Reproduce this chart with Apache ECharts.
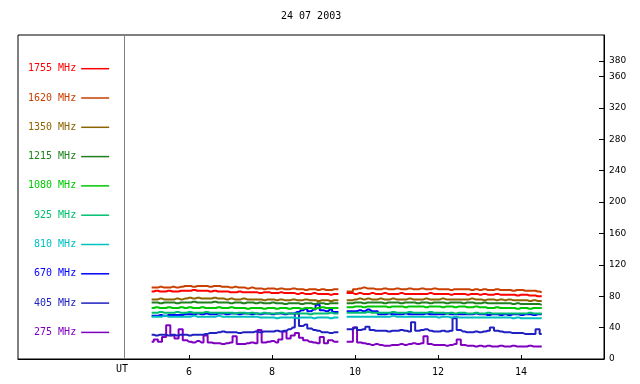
<!DOCTYPE html>
<html>
<head>
<meta charset="utf-8">
<script src="https://cdn.jsdelivr.net/npm/echarts@6/dist/echarts.min.js"></script>
<style>
  html, body { margin: 0; padding: 0; background: #fff; }
  #radio { width: 640px; height: 384px; }
</style>
</head>
<body>
<div id="radio"></div>
<script>
// time grid in UT hours, 9.7 is the data gap
var times = [5.1, 5.2, 5.3, 5.4, 5.5, 5.6, 5.7, 5.8,
  5.9, 6.0, 6.1, 6.2, 6.3, 6.4, 6.5, 6.6, 6.7,
  6.8, 6.9, 7.0, 7.1, 7.2, 7.3, 7.4, 7.5,
  7.6, 7.7, 7.8, 7.9, 8.0, 8.1, 8.2, 8.3, 8.4, 8.5, 8.6, 8.7, 8.8, 8.9, 9.0, 9.1, 9.2, 9.3, 9.4, 9.5,
  9.7,
  9.9, 10.0, 10.1, 10.2, 10.3, 10.4, 10.5,
  10.6, 10.7, 10.8, 10.9, 11.0, 11.1, 11.2, 11.3, 11.4, 11.5,
  11.6, 11.7, 11.8, 11.9, 12.0, 12.1, 12.2, 12.3, 12.4, 12.5,
  12.6, 12.7, 12.8, 12.9, 13.0, 13.1, 13.2, 13.3, 13.4, 13.5,
  13.6, 13.7, 13.8, 13.9, 14.0, 14.1, 14.2, 14.3, 14.4, 14.5];

var f1755 = [86, 87, 86, 86, 87, 86, 86, 87,
  87, 87, 88, 87, 87, 87, 86, 87, 86,
  86, 86, 85, 85, 86, 85, 85, 85,
  85, 84, 85, 85, 84, 84, 85, 84, 84, 84, 83, 84, 83, 83, 84, 83, 83, 83, 82, 83,
  null,
  84, 83, 84, 83, 83, 84, 83,
  83, 84, 83, 83, 83, 84, 83, 83, 83, 83,
  83, 83, 84, 83, 83, 83, 83, 82, 83, 83,
  83, 82, 83, 83, 82, 83, 82, 82, 83, 82,
  82, 82, 82, 81, 82, 82, 81, 81, 80, 80];
var f1620 = [91, 91, 92, 91, 91, 92, 91, 92,
  93, 93, 92, 93, 93, 93, 92, 93, 93,
  92, 92, 91, 92, 91, 91, 90, 91,
  90, 90, 89, 90, 90, 89, 90, 89, 89, 90, 89, 89, 88, 89, 89, 88, 89, 88, 88, 89,
  null,
  86, 89, 90, 91, 90, 90, 89,
  89, 90, 89, 89, 90, 89, 89, 90, 89, 89,
  90, 89, 89, 90, 89, 89, 89, 88, 89, 89,
  89, 89, 88, 89, 88, 89, 88, 88, 89, 88,
  88, 88, 87, 88, 88, 87, 87, 87, 86, 85];
var f1350 = [76, 76, 77, 76, 76, 76, 77, 76,
  77, 78, 77, 78, 77, 77, 77, 78, 77,
  77, 76, 77, 76, 76, 77, 76, 76,
  76, 76, 75, 76, 76, 75, 76, 75, 75, 76, 75, 75, 76, 75, 75, 74, 75, 75, 74, 75,
  null,
  75, 76, 77, 76, 77, 76, 76,
  77, 76, 76, 77, 76, 76, 76, 77, 76, 76,
  76, 77, 76, 76, 76, 77, 76, 76, 76, 76,
  76, 76, 77, 76, 76, 75, 76, 76, 75, 76,
  75, 76, 75, 75, 75, 75, 74, 75, 74, 74];
var f1215 = [72, 72, 71, 72, 72, 72, 71, 72,
  72, 72, 73, 72, 72, 72, 72, 73, 72,
  72, 72, 71, 72, 72, 71, 72, 72,
  71, 72, 71, 71, 72, 71, 71, 70, 71, 71, 71, 70, 71, 71, 70, 71, 71, 70, 71, 71,
  null,
  71, 72, 72, 71, 72, 72, 72,
  72, 71, 72, 72, 72, 71, 72, 72, 72, 71,
  72, 72, 71, 72, 72, 72, 71, 72, 72, 72,
  71, 72, 72, 71, 71, 72, 71, 71, 71, 71,
  71, 71, 70, 71, 70, 70, 70, 70, 70, 69];
var f1080 = [65, 66, 65, 65, 66, 65, 65, 66,
  65, 66, 65, 65, 66, 65, 65, 65, 66,
  65, 65, 66, 65, 65, 65, 64, 65,
  65, 65, 64, 65, 65, 64, 65, 65, 64, 65, 65, 64, 65, 65, 64, 65, 66, 65, 65, 65,
  null,
  66, 67, 67, 66, 67, 67, 67,
  67, 67, 66, 67, 67, 67, 66, 67, 67, 67,
  67, 66, 67, 67, 67, 66, 67, 67, 66, 67,
  67, 66, 66, 67, 66, 66, 65, 65, 66, 65,
  65, 65, 65, 64, 65, 65, 64, 65, 65, 65];
var f925 = [59, 59, 60, 59, 59, 59, 60, 59,
  59, 60, 59, 59, 59, 60, 59, 59, 59,
  59, 59, 59, 58, 59, 59, 58, 59,
  58, 58, 59, 58, 58, 58, 59, 58, 58, 58, 58, 58, 58, 57, 58, 58, 58, 58, 59, 58,
  null,
  59, 59, 59, 59, 60, 59, 59,
  59, 59, 59, 60, 59, 59, 59, 60, 59, 59,
  59, 59, 60, 59, 59, 59, 58, 59, 58, 59,
  59, 58, 58, 59, 58, 58, 59, 58, 58, 58,
  58, 58, 58, 58, 58, 58, 59, 58, 58, 58];
var f810 = [54, 54, 54, 55, 54, 54, 54, 54,
  54, 54, 55, 54, 54, 54, 54, 54, 55,
  54, 54, 54, 54, 54, 54, 54, 54,
  54, 53, 53, 53, 53, 52, 53, 53, 53, 53, 52, 53, 53, 53, 52, 53, 53, 53, 52, 53,
  null,
  54, 54, 54, 54, 54, 54, 54,
  54, 54, 54, 55, 54, 54, 54, 54, 54, 54,
  54, 54, 54, 54, 53, 54, 54, 53, 54, 53,
  53, 53, 53, 53, 53, 53, 53, 53, 53, 53,
  53, 53, 52, 53, 52, 52, 52, 52, 52, 52];
var f670 = [55, 55, 56, 55, 56, 56, 56, 56,
  57, 57, 57, 58, 57, 58, 57, 57, 58,
  58, 57, 58, 58, 57, 58, 58, 57,
  58, 57, 58, 58, 57, 58, 58, 57, 58, 58, 60, 62, 64, 61, 63, 69, 62, 61, 63, 60,
  null,
  61, 61, 62, 61, 63, 61, 61,
  57, 57, 58, 57, 57, 57, 58, 57, 57, 57,
  57, 58, 57, 57, 57, 57, 58, 57, 57, 57,
  57, 57, 57, 58, 57, 57, 56, 57, 57, 56,
  57, 56, 57, 57, 56, 57, 57, 56, 57, 57];
var f405 = [31, 30, 31, 31, 30, 31, 30, 31,
  31, 30, 31, 31, 31, 32, 33, 33, 34,
  35, 34, 34, 34, 33, 34, 34, 34,
  35, 34, 35, 35, 35, 36, 35, 36, 38, 40, 58, 42, 44, 39, 37, 36, 34, 34, 33, 34,
  null,
  38, 40, 37, 38, 41, 37, 36,
  36, 36, 35, 36, 36, 37, 36, 35, 47, 36,
  37, 38, 36, 35, 35, 36, 35, 36, 52, 37,
  35, 34, 34, 35, 34, 35, 36, 40, 36, 35,
  34, 34, 33, 33, 33, 32, 32, 32, 38, 32];
var f275 = [22, 25, 22, 28, 43, 30, 26, 38,
  24, 22, 21, 23, 21, 30, 21, 20, 20,
  19, 20, 21, 29, 19, 19, 20, 21,
  20, 37, 21, 22, 23, 21, 25, 35, 26, 30, 33, 27, 24, 22, 21, 20, 28, 20, 24, 22,
  null,
  22, 40, 21, 20, 19, 18, 19,
  18, 17, 17, 18, 18, 19, 18, 19, 20, 19,
  20, 29, 19, 18, 18, 18, 17, 18, 19, 25,
  18, 17, 17, 16, 17, 16, 17, 16, 16, 17,
  16, 16, 17, 16, 16, 16, 17, 16, 16, 16];

var bands = ['1755 MHz', '1620 MHz', '1350 MHz', '1215 MHz', '1080 MHz',
  '925 MHz', '810 MHz', '670 MHz', '405 MHz', '275 MHz'];
var bandData = [f1755, f1620, f1350, f1215, f1080, f925, f810, f670, f405, f275];
var bandColors = ['#ff0000', '#c84000', '#8c6400', '#208020', '#00c800',
  '#00c070', '#00c0c0', '#0000ff', '#2020c0', '#8000c0'];

var yTicks = [0, 40, 80, 120, 160, 200, 240, 280, 320, 360, 380];
var xTicks = [6, 8, 10, 12, 14];
var utLine = 4.43;

var mono = 'DejaVu Sans Mono';

function pairs(vals) {
  var out = [];
  for (var i = 0; i < times.length; i++) out.push([times[i], vals[i]]);
  return out;
}

var chart = echarts.init(document.getElementById('radio'));

var series = [];
for (var i = bands.length - 1; i >= 0; i--) {
  var s = {
    name: bands[i],
    type: 'line',
    symbol: 'none',
    step: 'middle',
    color: bandColors[i],
    lineStyle: {width: 2, color: bandColors[i]},
    data: pairs(bandData[i])
  };
  if (i === bands.length - 1) {
    s.markLine = {
      silent: true,
      symbol: 'none',
      label: {show: false},
      lineStyle: {color: '#808080', type: 'solid', width: 1},
      data: [{xAxis: utLine}]
    };
  }
  series.push(s);
}

var legendData = [];
for (var j = 0; j < bands.length; j++) {
  legendData.push({name: bands[j], textStyle: {color: bandColors[j]}});
}

var option = {
  animation: false,
  backgroundColor: '#fff',
  title: {
    text: '24 07 2003',
    left: 281,
    top: 11,
    padding: 0,
    textStyle: {fontFamily: mono, fontSize: 10, fontWeight: 'normal', color: '#000'}
  },
  legend: {
    orient: 'vertical',
    align: 'right',
    icon: 'rect',
    left: 28,
    top: 63.7,
    padding: 0,
    itemWidth: 28,
    itemHeight: 1.5,
    itemGap: 19.3,
    selectedMode: false,
    textStyle: {fontFamily: mono, fontSize: 10},
    data: legendData
  },
  grid: {
    left: 18,
    right: 36,
    top: 35,
    bottom: 25,
    show: true,
    borderColor: '#000',
    borderWidth: 1
  },
  xAxis: {
    type: 'value',
    min: 1.88,
    max: 16,
    splitLine: {show: false},
    axisLine: {lineStyle: {color: '#000', width: 1}},
    axisTick: {inside: true, length: 4, customValues: xTicks, lineStyle: {color: '#000'}},
    axisLabel: {customValues: xTicks, margin: 8, color: '#000', fontFamily: mono, fontSize: 10}
  },
  yAxis: {
    type: 'value',
    position: 'right',
    min: 0,
    max: 413,
    interval: 20,
    splitLine: {show: false},
    axisLine: {show: true, lineStyle: {color: '#000', width: 1}},
    axisTick: {show: true, inside: true, length: 5, customValues: yTicks, lineStyle: {color: '#000'}},
    axisLabel: {customValues: yTicks, margin: 5, color: '#000', fontFamily: 'DejaVu Sans', fontSize: 9}
  },
  graphic: [{
    type: 'text',
    left: 116,
    top: 364,
    style: {text: 'UT', fill: '#000', font: '10px "DejaVu Sans Mono"'}
  }],
  series: series
};

chart.setOption(option);
</script>
</body>
</html>
